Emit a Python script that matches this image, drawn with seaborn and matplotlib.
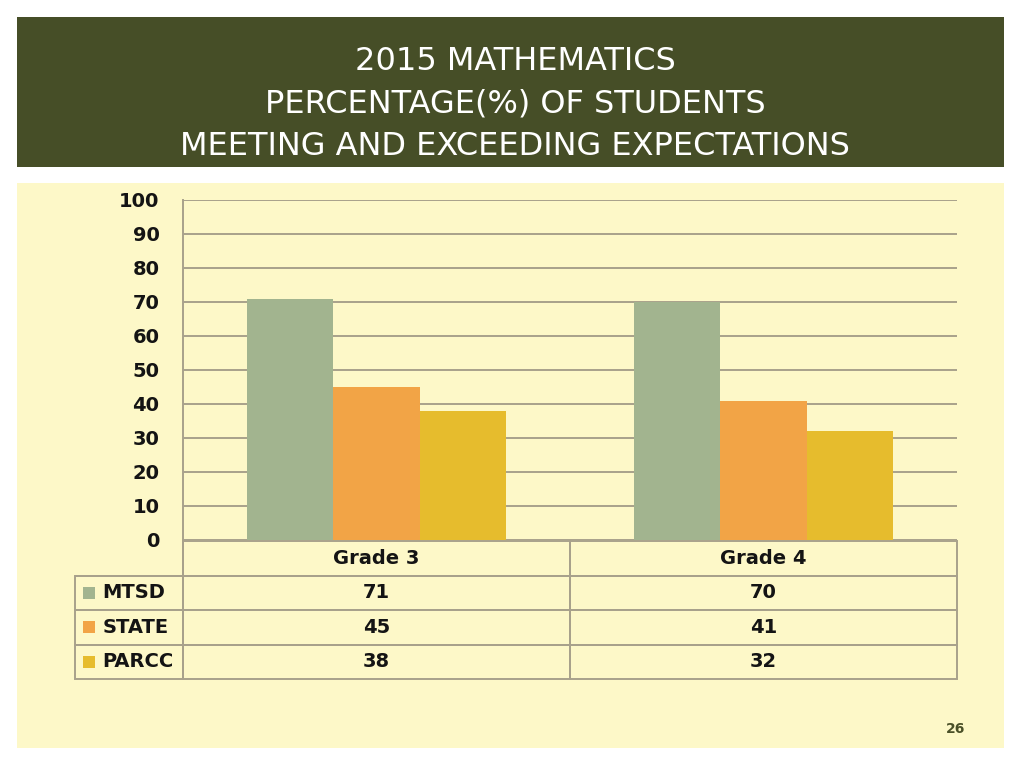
import matplotlib
matplotlib.use("Agg")
import matplotlib.pyplot as plt
import numpy as np
import pandas as pd
import seaborn as sns
from matplotlib.patches import Rectangle

# ── data ──
grades = ["Grade 3", "Grade 4"]
groups = ["MTSD", "STATE", "PARCC"]
mtsd = [71, 70]
state = [45, 41]
parcc = [38, 32]
yticks = [0, 10, 20, 30, 40, 50, 60, 70, 80, 90, 100]
title_lines = ["2015 MATHEMATICS", "PERCENTAGE(%) OF STUDENTS", "MEETING AND EXCEEDING EXPECTATIONS"]
page_no = "26"

COLORS = {"MTSD": "#A2B48F", "STATE": "#F2A446", "PARCC": "#E6BC2D"}
GRID = "#A8A18B"
PANEL = "#FDF8C8"
HEADER = "#464E27"
TEXT = "#141414"

sns.set_theme(style="white")
plt.rcParams["font.family"] = ["DejaVu Sans"]

df = pd.DataFrame(
    [(g, grp, v) for grp, vals in zip(groups, [mtsd, state, parcc]) for g, v in zip(grades, vals)],
    columns=["grade", "group", "value"],
)

fig = plt.figure(figsize=(10.24, 7.68), dpi=100, facecolor="white")

# slide backgrounds
fig.patches.append(Rectangle((0.0166, 0.0260), 0.9639, 0.7357, transform=fig.transFigure,
                             facecolor=PANEL, edgecolor="none", zorder=-10))
fig.patches.append(Rectangle((0.0166, 0.7826), 0.9639, 0.1953, transform=fig.transFigure,
                             facecolor=HEADER, edgecolor="none", zorder=-10))
for i, line in enumerate(title_lines):
    fig.text(0.503, 0.9193 - i * 0.0553, line, ha="center", va="center", color="white",
             fontsize=23)
fig.text(0.933, 0.051, page_no, ha="center", va="center", color="#4A5028",
         fontsize=10, fontweight="bold")

ax = fig.add_axes([0.1787, 0.2969, 0.7559, 0.4427])
ax.set_facecolor("none")
sns.barplot(data=df, x="grade", y="value", hue="group", hue_order=groups, order=grades,
            palette=COLORS, width=0.667, gap=0, linewidth=0, saturation=1, ax=ax, zorder=3)
ax.legend_.remove()
ax.set_ylim(0, 100)
ax.set_xlim(-0.5, 1.5)
ax.set_yticks(yticks)
ax.set_yticklabels([str(t) for t in yticks], fontsize=14, fontweight="bold", color=TEXT)
ax.tick_params(axis="y", length=0, pad=17)
ax.set_xticks([])
ax.set_xlabel("")
ax.set_ylabel("")
ax.yaxis.grid(True, color=GRID, linewidth=1.4, zorder=0)
for s in ["top", "right", "bottom"]:
    ax.spines[s].set_visible(False)
ax.spines["left"].set_color(GRID)
ax.spines["left"].set_linewidth(1.4)

# data table under the plot
cell_text = [[grp] + [str(v) for v in vals] for grp, vals in zip(groups, [mtsd, state, parcc])]
tbl = ax.table(cellText=cell_text, colLabels=[""] + grades,
               colWidths=[108 / 882, 387 / 882, 387 / 882],
               bbox=[-0.1395, -0.409, 1.1395, 0.406], cellLoc="center")
tbl.auto_set_font_size(False)
for (r, c), cell in tbl.get_celld().items():
    cell.set_facecolor("none")
    cell.set_edgecolor(GRID)
    cell.set_linewidth(1.4)
    cell.get_text().set_fontsize(14)
    cell.get_text().set_fontweight("bold")
    cell.get_text().set_color(TEXT)
    if r == 0 and c == 0:
        cell.visible_edges = "RB"
    if c == 0 and r > 0:
        cell.get_text().set_ha("left")
        cell._loc = "left"
        cell.PAD = 0.255

fig.canvas.draw()
for r, grp in enumerate(groups, start=1):
    cell = tbl[r, 0]
    h = cell.get_height()
    sq_w = 12 / 774
    sq_h = 12 / 340
    ax.add_patch(Rectangle((cell.get_x() + 8 / 774, cell.get_y() + h / 2 - sq_h / 2), sq_w, sq_h,
                           transform=ax.transAxes, facecolor=COLORS[grp], edgecolor="none",
                           clip_on=False))

fig.savefig("out.png", dpi=100, facecolor="white")
